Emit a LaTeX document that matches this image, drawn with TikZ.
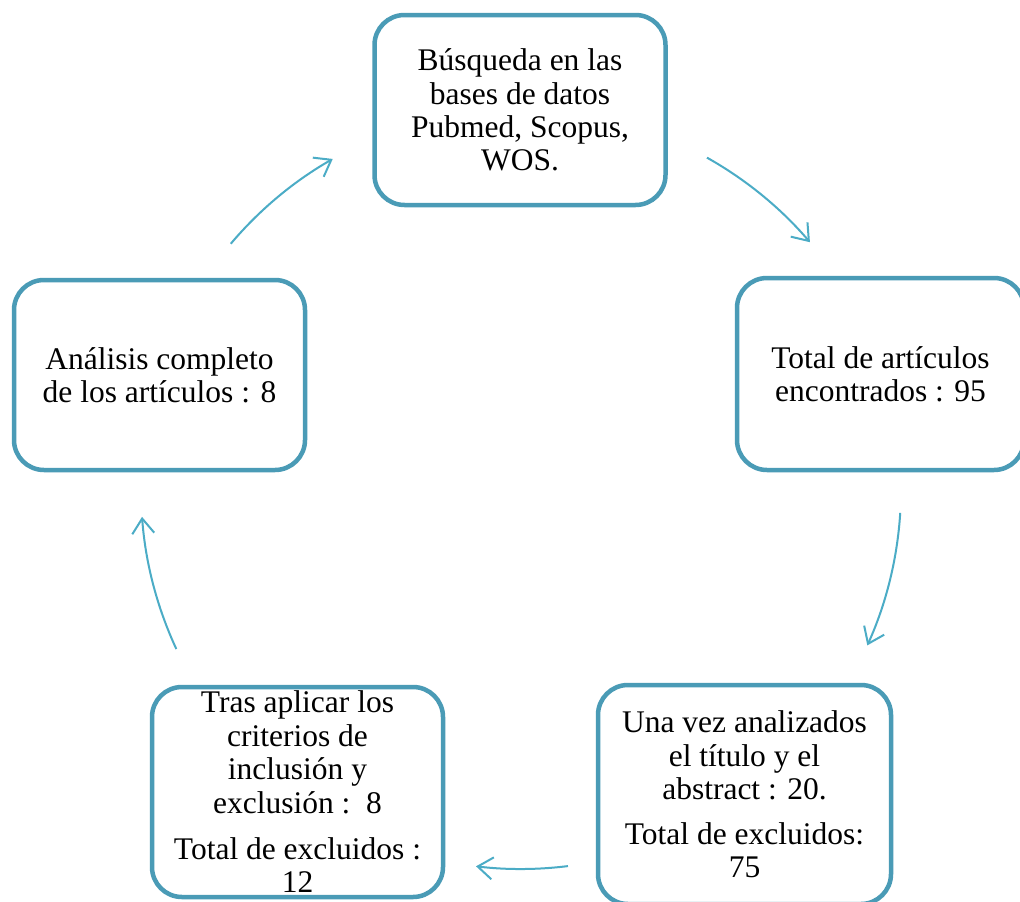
\documentclass[tikz,border=0pt]{standalone}
\usepackage{fontspec}
\setmainfont{Liberation Serif}
\usetikzlibrary{arrows.meta,calc}
\definecolor{boxc}{RGB}{74,155,182}
\definecolor{arrc}{RGB}{75,172,198}
\tikzset{
  stage/.style={draw=boxc, line width=4.5pt, rounded corners=30pt, fill=white,
    inner sep=0pt, align=center, font=\fontsize{31.5}{33.4}\selectfont},
  flow/.style={draw=arrc, line width=2pt, -{Straight Barb[length=15pt,width=22pt,line width=2pt]}}
}
\begin{document}
\begin{tikzpicture}[x=1pt,y=-1pt]
\useasboundingbox (0,0) rectangle (1020,902);
\fill[white] (0,0) rectangle (1020,902);
\clip (0,0) rectangle (1020,902);
\node[stage, minimum width=291pt, minimum height=190pt] (b1) at (520,110)
  {Búsqueda en las\\bases de datos\\Pubmed, Scopus,\\WOS.};
\node[stage, minimum width=287pt, minimum height=192pt] (b2) at (880.5,374)
  {Total de artículos\\encontrados : 95};
\node[stage, minimum width=293pt, minimum height=219pt] (b3) at (744.5,794.5)
  {Una vez analizados\\el título y el\\abstract : 20.\\[11.5pt]Total de excluidos:\\75};
\node[stage, minimum width=291pt, minimum height=210pt] (b4) at (297.5,792)
  {Tras aplicar los\\criterios de\\inclusión y\\exclusión :\ \ 8\\[13pt]Total de excluidos :\\12};
\node[stage, minimum width=291pt, minimum height=190pt] (b5) at (159.5,375)
  {Análisis completo\\de los artículos : 8};
\coordinate (C) at (521,489);
\coordinate (a1) at ($(C)+(-60.7:380)$);
\coordinate (a2) at ($(C)+(3.6:380)$);
\coordinate (a3) at ($(C)+(82.9:380)$);
\coordinate (a4) at ($(C)+(155.1:380)$);
\coordinate (a5) at ($(C)+(220.2:380)$);
\draw[flow] (a1) arc[start angle=-60.7, end angle=-40.5, radius=380];
\draw[flow] (a2) arc[start angle=3.6, end angle=24.3, radius=380];
\draw[flow] (a3) arc[start angle=82.9, end angle=96.8, radius=380];
\draw[flow] (a4) arc[start angle=155.1, end angle=175.8, radius=380];
\draw[flow] (a5) arc[start angle=220.2, end angle=240.3, radius=380];
\end{tikzpicture}
\end{document}
